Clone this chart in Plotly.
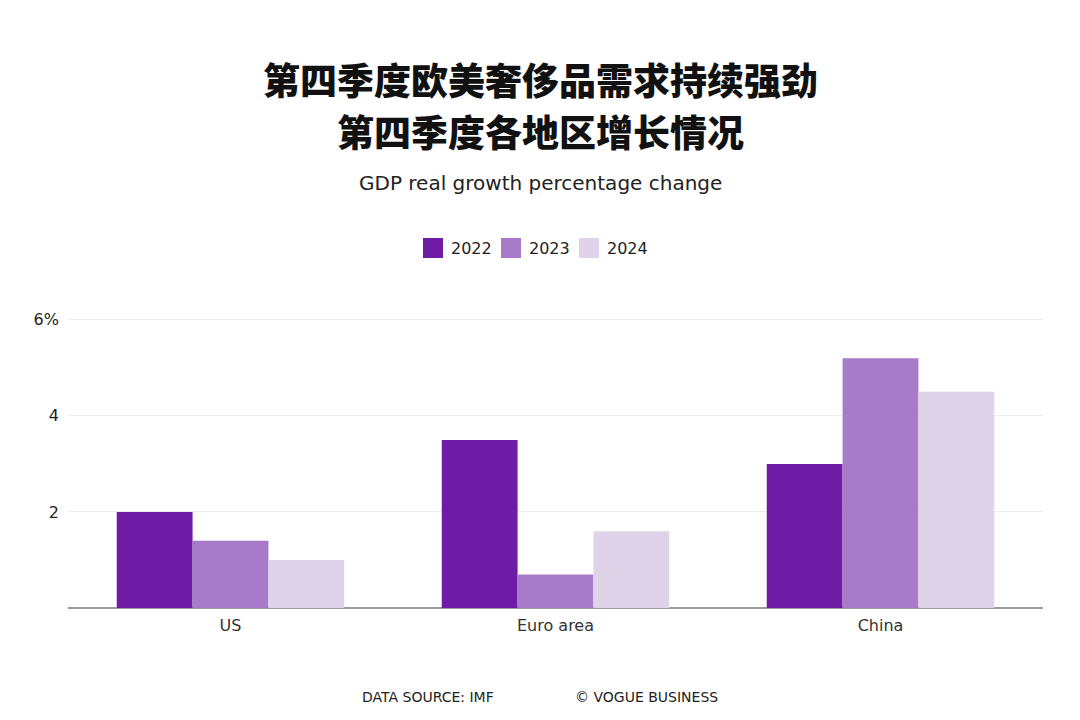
import plotly.graph_objects as go

categories = ["US", "Euro area", "China"]
years = ["2022", "2023", "2024"]
values_2022 = [2.0, 3.5, 3.0]
values_2023 = [1.4, 0.7, 5.2]
values_2024 = [1.0, 1.6, 4.5]
series = [values_2022, values_2023, values_2024]
colors = ["#6E1CA6", "#A77BCA", "#DFD3EA"]
tick_vals = [2, 4, 6]
tick_text = ["2", "4", "6%"]

W, H = 1080, 720
OFF = 8  # page body offset
L, R, T, B = 60, 45, 307, 120
PW = W - L - R
PH = H - T - B

def xp(px):
    return (px - OFF - L) / PW

def yp(py):
    return 1 - (py - OFF - T) / PH

LATIN = "DejaVu Sans"

fig = go.Figure()
for yr, vals, c in zip(years, series, colors):
    fig.add_trace(go.Bar(x=categories, y=vals, name=yr, showlegend=False,
                         marker=dict(color=c, line=dict(width=0))))

fig.update_layout(
    width=W, height=H,
    paper_bgcolor="white", plot_bgcolor="white",
    margin=dict(l=L, r=R, t=T, b=B, autoexpand=False),
    barmode="group", bargap=0.3, bargroupgap=0,
    font=dict(family=LATIN, color="#222"),
    showlegend=False,
    xaxis=dict(showgrid=False, showline=False, ticks="", automargin=False, ticklabelstandoff=6,
               tickfont=dict(family=LATIN, size=16, color="#333")),
    yaxis=dict(range=[0, 6.1], tickvals=tick_vals, ticktext=tick_text, showgrid=True,
               gridcolor="#ECECEC", gridwidth=1, zeroline=True, zerolinecolor="#9A9A9A",
               zerolinewidth=2, showline=False, ticks="", ticklabelstandoff=8, automargin=False,
               tickfont=dict(family=LATIN, size=16, color="#222")),
)

title_font = dict(family="Noto Sans CJK SC", size=37, color="#111", weight=900)
fig.add_annotation(text="第四季度欧美奢侈品需求持续强劲", x=xp(540), xref="paper", y=yp(79), yref="paper",
                   xanchor="center", yanchor="middle", showarrow=False, font=title_font)
fig.add_annotation(text="第四季度各地区增长情况", x=xp(540), xref="paper", y=yp(131), yref="paper",
                   xanchor="center", yanchor="middle", showarrow=False, font=title_font)
fig.add_annotation(text="GDP real growth percentage change", x=xp(540), xref="paper", y=yp(183), yref="paper",
                   xanchor="center", yanchor="middle", showarrow=False,
                   font=dict(family=LATIN, size=20, color="#222"))
fig.add_annotation(text="DATA SOURCE: IMF", x=xp(360), xref="paper", y=yp(697), yref="paper",
                   xanchor="left", yanchor="middle", showarrow=False,
                   font=dict(family=LATIN, size=14, color="#222"))
fig.add_annotation(text="© VOGUE BUSINESS", x=xp(573), xref="paper", y=yp(697), yref="paper",
                   xanchor="left", yanchor="middle", showarrow=False,
                   font=dict(family=LATIN, size=14, color="#222"))

# legend (drawn manually to match the large square swatches)
legend_sq_x = [423, 501, 579]
for yr, c, sx in zip(years, colors, legend_sq_x):
    fig.add_shape(type="rect", xref="paper", yref="paper",
                  x0=xp(sx), x1=xp(sx + 20), y0=yp(258), y1=yp(238),
                  fillcolor=c, line=dict(width=0))
    fig.add_annotation(text=yr, x=xp(sx + 26), xref="paper", y=yp(248), yref="paper",
                       xanchor="left", yanchor="middle", showarrow=False,
                       font=dict(family=LATIN, size=16, color="#222"))

fig.write_html("out.html")
